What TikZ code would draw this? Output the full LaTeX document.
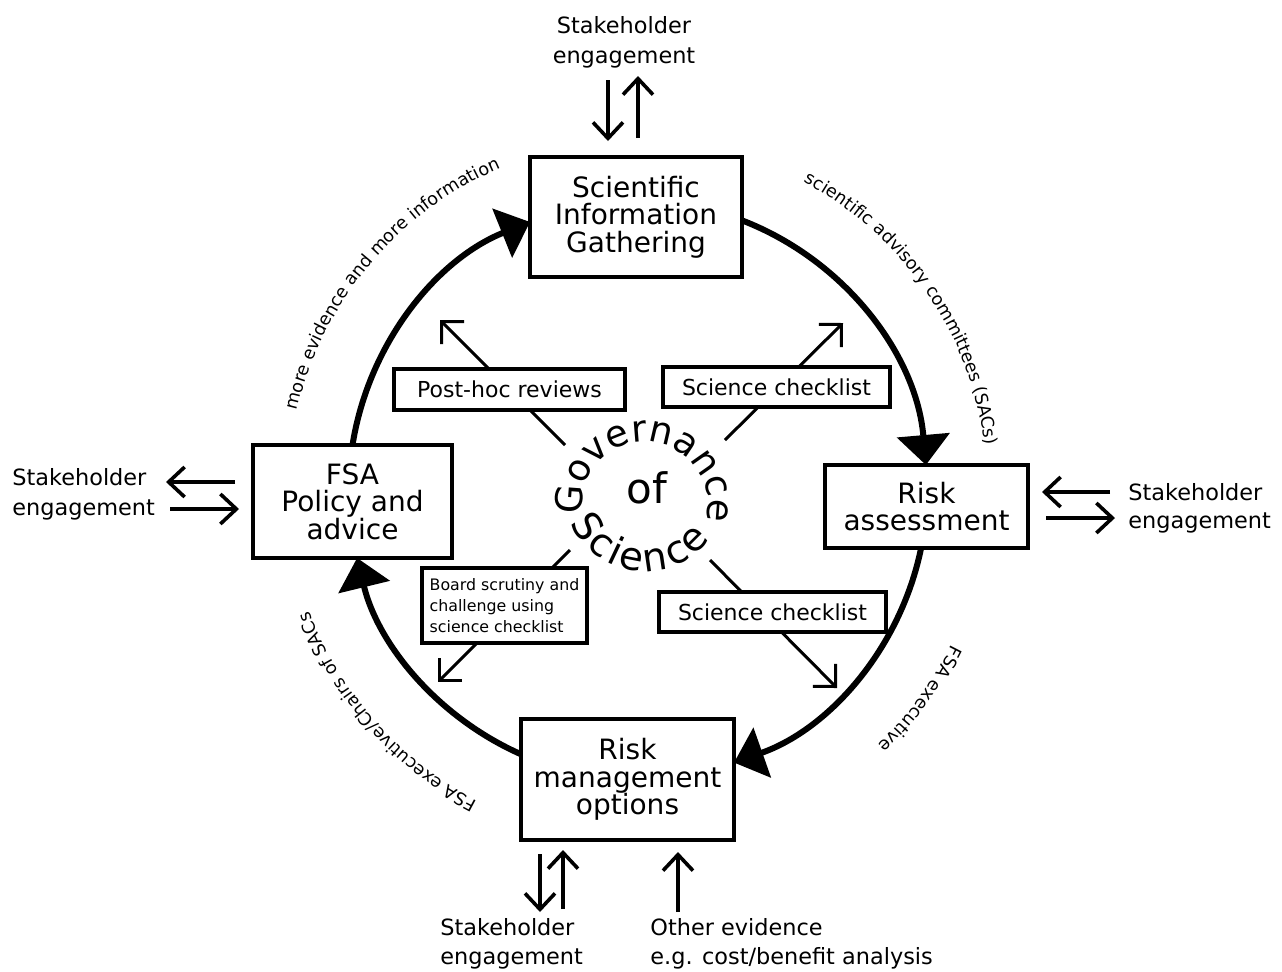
\documentclass[tikz,border=0pt]{standalone}
\usepackage{fontspec}
\setmainfont{DejaVu Sans}
\usetikzlibrary{arrows.meta,calc,decorations.text}
\begin{document}
\begin{tikzpicture}[x=0.5pt,y=0.5pt,
  bigbox/.style={draw, line width=2pt, fill=white, align=center, inner sep=0pt, font=\fontsize{14}{13.7}\selectfont},
  smallbox/.style={draw, line width=1.7pt, fill=white, align=center, inner sep=0pt, font=\fontsize{11}{12}\selectfont},
  cyc/.style={line width=3pt, -{Triangle[length=15pt,width=26pt]}},
  ray/.style={line width=1.5pt, -{Straight Barb[length=8pt,width=16pt]}},
  sarrow/.style={line width=1.8pt, -{Straight Barb[length=8pt,width=15pt]}},
  lbl/.style={font=\fontsize{11.2}{13}\selectfont, inner sep=0pt},
  curvelbl/.style={decorate, decoration={text along path, text align=center, text={|\fontsize{8.8}{10}\selectfont|#1}}}
]
\fill[white] (0,0) rectangle (1282,-971);
\useasboundingbox (0,0) rectangle (1282,-971);

% circle centre
\coordinate (c) at (638,-490);

% cycle arcs
\draw[cyc] ($(c)+(172:289)$) arc[start angle=172, end angle=111.95, radius=144.5pt];
\draw[cyc] ($(c)+(70:289)$) arc[start angle=70, end angle=4.96, radius=144.5pt];
\draw[cyc] ($(c)+(-10.5:289)$) arc[start angle=-10.5, end angle=-70.6, radius=144.5pt];
\draw[cyc] ($(c)+(-113:289)$) arc[start angle=-113, end angle=-166.4, radius=144.5pt];

% curved labels
\path[curvelbl={more evidence and more information}] ($(c)+(190:350)$) arc[start angle=190, end angle=90, radius=175pt];
\path[curvelbl={scientific advisory committees (SACs)}] ($(c)+(84.5:350)$) arc[start angle=84.5, end angle=-15.5, radius=175pt];
\path[curvelbl={FSA executive}] ($(c)+(13.5:350)$) arc[start angle=13.5, end angle=-86.5, radius=175pt];
\path[curvelbl={FSA executive/Chairs of SACs}] ($(c)+(271.5:350)$) arc[start angle=271.5, end angle=171.5, radius=175pt];

% rays
\coordinate (nw0) at (565,-445); \coordinate (nw1) at (440,-320);
\coordinate (ne0) at (725,-440); \coordinate (ne1) at (843,-323);
\coordinate (sw0) at (570,-550); \coordinate (sw1) at (438,-682);
\coordinate (se0) at (710,-560); \coordinate (se1) at (837,-688);
\draw[ray] (nw0) -- (nw1);
\draw[ray] (ne0) -- (ne1);
\draw[ray] (sw0) -- (sw1);
\draw[ray] (se0) -- (se1);

% main boxes
\node[bigbox, minimum width=106pt, minimum height=60pt] (sig) at (636,-217) {Scientific\\Information\\Gathering};
\node[bigbox, minimum width=101.5pt, minimum height=41.5pt] (ra) at (926.5,-506.5) {Risk\\assessment};
\node[bigbox, minimum width=106.5pt, minimum height=60.5pt] (rmo) at (627.5,-779.5) {Risk\\management\\options};
\node[bigbox, minimum width=99.5pt, minimum height=56.5pt] (fsa) at (352.5,-501.5) {FSA\\Policy and\\advice};

% inner boxes
\node[smallbox, minimum width=115.5pt, minimum height=20.5pt] (phr) at (509.5,-389.5) {Post-hoc reviews};
\node[smallbox, minimum width=113.5pt, minimum height=20pt] (sc1) at (776.5,-387) {Science checklist};
\node[smallbox, minimum width=113.5pt, minimum height=20pt] (sc2) at (772.5,-612) {Science checklist};
\node[smallbox, align=left, font=\fontsize{7.9}{10.5}\selectfont, minimum width=82.5pt, minimum height=37.5pt] (bsc) at (504.5,-605.5) {Board scrutiny and\\challenge using\\science checklist};

% Governance of Science
\coordinate (gc) at (645,-505);
\coordinate (scc) at (645,-490);
\path[decorate, decoration={text along path, text align=center, text={|\fontsize{18.5}{20}\selectfont|Governance}}] ($(gc)+(237:63)$) arc[start angle=237, end angle=-63, radius=31.5pt];
\path[decorate, decoration={text along path, text align=fit to path, text={|\fontsize{19.5}{21}\selectfont|Science}}] ($(scc)+(204:81.5)$) arc[start angle=204, end angle=323.3, radius=40.75pt];
\node[font=\fontsize{21}{23}\selectfont, anchor=base, inner sep=0pt] (of) at (647,-503) {of};

% stakeholder arrows
\draw[sarrow] ($(sig.north)+(-28,75)$) -- ($(sig.north)+(-28,14)$);
\draw[sarrow] ($(sig.north)+(2,17)$) -- ($(sig.north)+(2,79)$);
\draw[sarrow] ($(fsa.west)+(-16,19.5)$) -- ($(fsa.west)+(-85,19.5)$);
\draw[sarrow] ($(fsa.west)+(-81,-7.5)$) -- ($(fsa.west)+(-12,-7.5)$);
\draw[sarrow] ($(ra.east)+(80,14.5)$) -- ($(ra.east)+(12,14.5)$);
\draw[sarrow] ($(ra.east)+(16,-11.5)$) -- ($(ra.east)+(85,-11.5)$);
\draw[sarrow] ($(rmo.south)+(-87.5,-12)$) -- ($(rmo.south)+(-87.5,-70)$);
\draw[sarrow] ($(rmo.south)+(-64.5,-67)$) -- ($(rmo.south)+(-64.5,-8)$);
\draw[sarrow] ($(rmo.south)+(50.5,-70)$) -- ($(rmo.south)+(50.5,-10)$);

% labels
\node[lbl, anchor=base] (st1) at (624,-33) {Stakeholder};
\node[lbl, anchor=base] (st2) at (624,-63) {engagement};
\node[lbl, anchor=base west] (sl1) at (12,-485) {Stakeholder};
\node[lbl, anchor=base west] (sl2) at (12,-515) {engagement};
\node[lbl, anchor=base west] (sr1) at (1128,-500) {Stakeholder};
\node[lbl, anchor=base west] (sr2) at (1128,-528) {engagement};
\node[lbl, anchor=base west] (sb1) at (440,-935) {Stakeholder};
\node[lbl, anchor=base west] (sb2) at (440,-964) {engagement};
\node[lbl, anchor=base west] (oe1) at (650,-935) {Other evidence};
\node[lbl, anchor=base west] (oe2) at (650,-964) {e.g. cost/benefit analysis};
\end{tikzpicture}
\end{document}
